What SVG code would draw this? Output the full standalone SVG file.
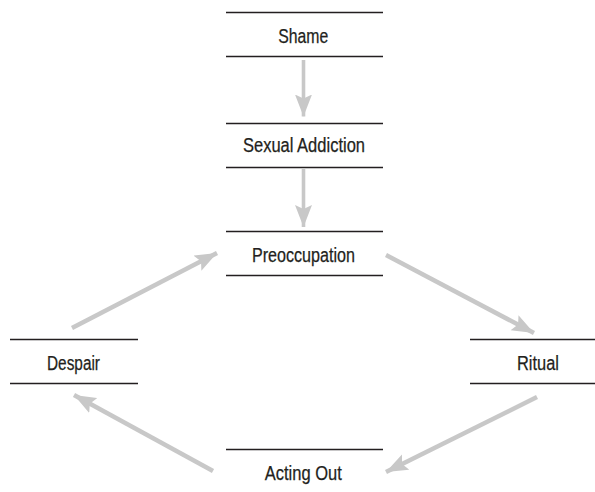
<svg xmlns="http://www.w3.org/2000/svg" width="595" height="492" viewBox="0 0 595 492">
  <style>
    .rule { stroke: #231f20; stroke-width: 1.3; }
    .label { font-family: "Liberation Sans", Arial, sans-serif; font-size: 20px; fill: #231f20; text-anchor: middle; stroke: #231f20; stroke-width: 0.25; }
    .flow { stroke: #c8c8c8; stroke-width: 4.5; fill: none; }
    .flow.down { stroke-width: 3.6; }
  </style>
  <defs>
    <marker id="head" markerUnits="userSpaceOnUse" markerWidth="24" markerHeight="18" refX="22" refY="9" orient="auto">
      <path d="M0,0.5 L22,9 L0,17.5 L4,9 Z" fill="#c8c8c8"/>
    </marker>
  </defs>
  <rect width="595" height="492" fill="#ffffff"/>

  <g id="shame">
    <line class="rule" x1="226" y1="12.5" x2="383" y2="12.5"/>
    <line class="rule" x1="226" y1="56.5" x2="383" y2="56.5"/>
    <text class="label" x="303.3" y="43.3" textLength="50" lengthAdjust="spacingAndGlyphs">Shame</text>
  </g>
  <g id="sexual-addiction">
    <line class="rule" x1="226" y1="123.5" x2="383" y2="123.5"/>
    <line class="rule" x1="226" y1="167.5" x2="383" y2="167.5"/>
    <text class="label" x="304" y="151.7" textLength="122" lengthAdjust="spacingAndGlyphs">Sexual Addiction</text>
  </g>
  <g id="preoccupation">
    <line class="rule" x1="226" y1="231.5" x2="383" y2="231.5"/>
    <line class="rule" x1="226" y1="275.5" x2="383" y2="275.5"/>
    <text class="label" x="303.4" y="261.5" textLength="103" lengthAdjust="spacingAndGlyphs">Preoccupation</text>
  </g>
  <g id="despair">
    <line class="rule" x1="10" y1="339.5" x2="138" y2="339.5"/>
    <line class="rule" x1="10" y1="383.5" x2="138" y2="383.5"/>
    <text class="label" x="73.5" y="370" textLength="53" lengthAdjust="spacingAndGlyphs">Despair</text>
  </g>
  <g id="ritual">
    <line class="rule" x1="470" y1="339.5" x2="595" y2="339.5"/>
    <line class="rule" x1="470" y1="383.5" x2="595" y2="383.5"/>
    <text class="label" x="538" y="370" textLength="42" lengthAdjust="spacingAndGlyphs">Ritual</text>
  </g>
  <g id="acting-out">
    <line class="rule" x1="226" y1="449.5" x2="383" y2="449.5"/>
    <text class="label" x="303.3" y="480" textLength="77" lengthAdjust="spacingAndGlyphs">Acting Out</text>
  </g>

  <g id="connectors">
    <line class="flow down" x1="303.5" y1="60" x2="303.5" y2="116.5" marker-end="url(#head)"/>
    <line class="flow down" x1="303.5" y1="168" x2="303.5" y2="227" marker-end="url(#head)"/>
    <line class="flow" x1="386" y1="255" x2="534" y2="333" marker-end="url(#head)"/>
    <line class="flow" x1="537" y1="397" x2="386" y2="472" marker-end="url(#head)"/>
    <line class="flow" x1="213" y1="471" x2="74" y2="395" marker-end="url(#head)"/>
    <line class="flow" x1="72" y1="328" x2="217" y2="253" marker-end="url(#head)"/>
  </g>
</svg>
